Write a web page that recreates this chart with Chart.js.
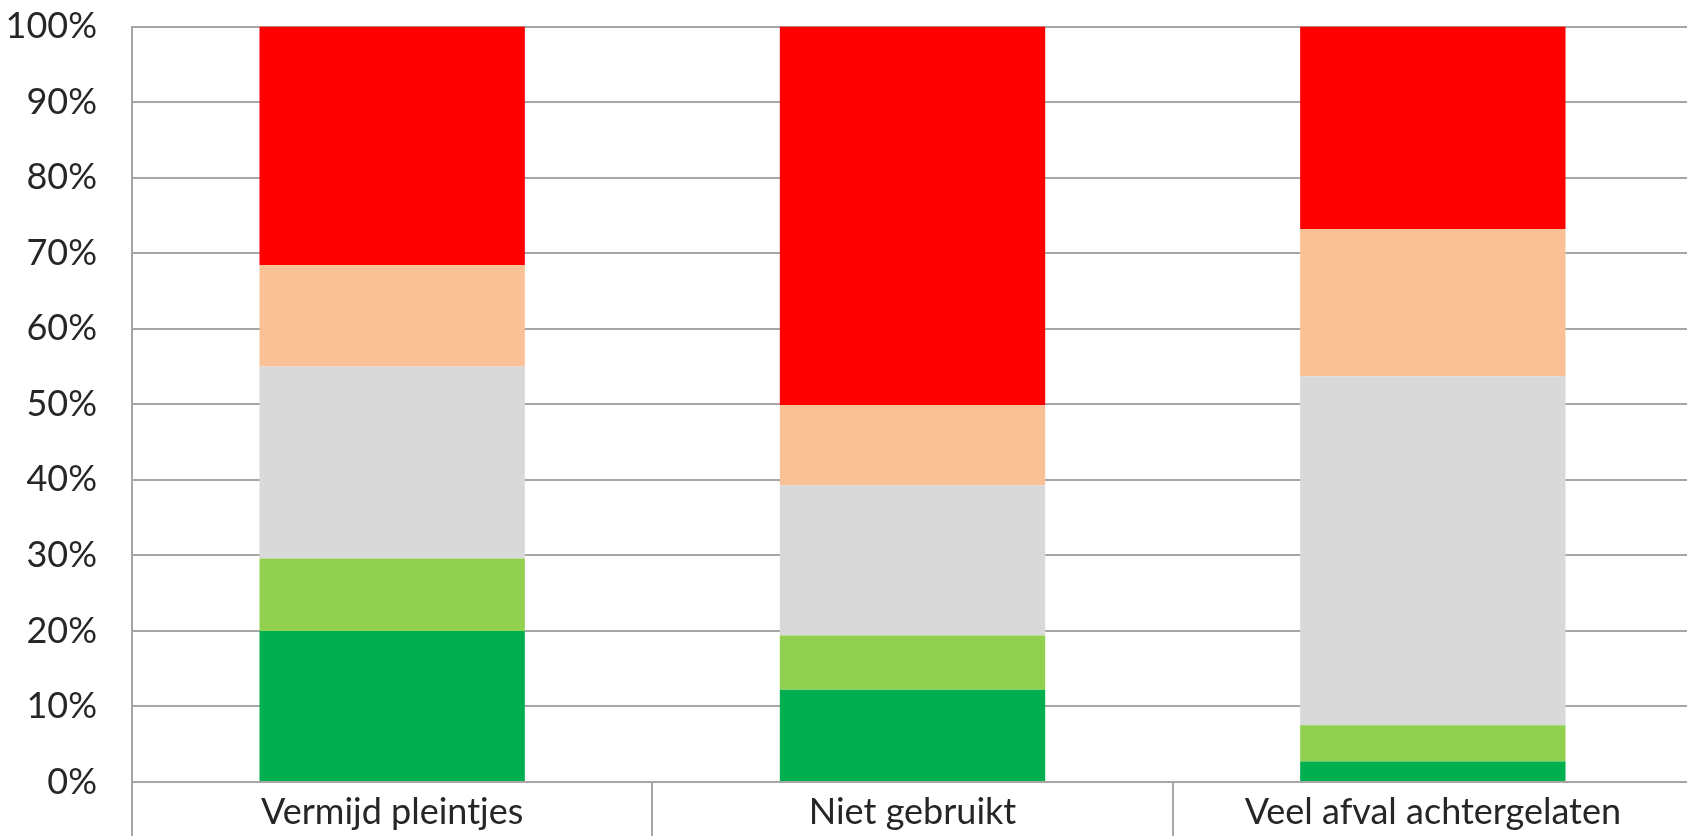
<!DOCTYPE html>
<html>
<head>
<meta charset="utf-8">
<script src="https://cdn.jsdelivr.net/npm/chart.js@4"></script>
<style>
  html, body { margin: 0; padding: 0; background: #fff; overflow: hidden; }
  /* plotgebied loopt net iets voorbij de rechterrand, zoals in het origineel */
  #wrap { width: 1693px; height: 836px; }
</style>
</head>
<body>
<div id="wrap"><canvas id="chart"></canvas></div>
<script>
// categorieen en aandelen per antwoord (in %)
const categories = ['Vermijd pleintjes', 'Niet gebruikt', 'Veel afval achtergelaten'];
const darkGreen  = [20.0, 12.2, 2.7];
const lightGreen = [9.6, 7.2, 4.8];
const grey       = [25.4, 19.9, 46.2];
const peach      = [13.4, 10.6, 19.5];
const red        = [31.6, 50.1, 26.8];
const yTicks = [0, 10, 20, 30, 40, 50, 60, 70, 80, 90, 100];

const labelFont = { family: 'Lato, "Open Sans", sans-serif', size: 36 };

new Chart(document.getElementById('chart'), {
    type: 'bar',
    data: {
        labels: categories,
        datasets: [
            { label: 'dark green', data: darkGreen, backgroundColor: '#00B050' },
            { label: 'light green', data: lightGreen, backgroundColor: '#92D050' },
            { label: 'grey', data: grey, backgroundColor: '#D9D9D9' },
            { label: 'peach', data: peach, backgroundColor: '#F9C195' },
            { label: 'red', data: red, backgroundColor: '#FF0000' }
        ]
    },
    options: {
        responsive: true,
        maintainAspectRatio: false,
        animation: false,
        layout: { padding: 0 },
        datasets: { bar: { categoryPercentage: 1.0, barPercentage: 0.51 } },
        plugins: {
            legend: { display: false },
            tooltip: { enabled: false }
        },
        scales: {
            x: {
                stacked: true,
                offset: true,
                afterFit: axis => { axis.height = 54; },
                grid: {
                    offset: true,
                    drawOnChartArea: false,
                    drawTicks: true,
                    tickLength: 60,
                    color: '#a6a6a6',
                    lineWidth: 2
                },
                border: { display: false },
                ticks: { font: labelFont, color: '#262626', padding: -51, maxRotation: 0, autoSkip: false }
            },
            y: {
                stacked: true,
                min: 0,
                max: 100,
                afterFit: axis => { axis.width = 132; },
                afterBuildTicks: axis => { axis.ticks = yTicks.map(v => ({ value: v })); },
                // onzichtbare tick-streepjes zorgen voor de ruimte tussen labels en as
                grid: { color: '#a6a6a6', lineWidth: 2, drawTicks: true, tickLength: 30, tickColor: 'rgba(0,0,0,0)' },
                border: { color: '#a6a6a6', width: 2 },
                ticks: {
                    font: labelFont,
                    color: '#262626',
                    padding: 5,
                    callback: v => v + '%'
                }
            }
        }
    }
});
</script>
</body>
</html>
